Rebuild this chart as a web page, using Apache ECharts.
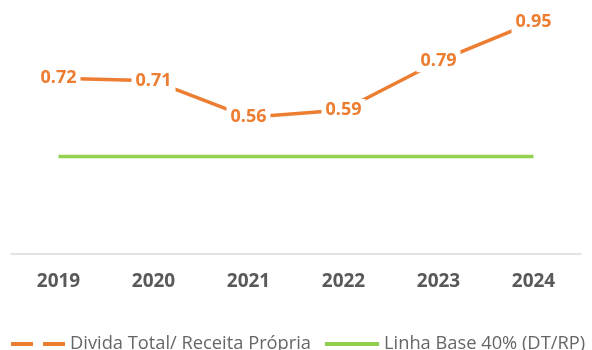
<!DOCTYPE html>
<html>
<head>
<meta charset="utf-8">
<script src="https://cdn.jsdelivr.net/npm/echarts@6/dist/echarts.min.js"></script>
<style>
  html, body { margin: 0; padding: 0; background: #fff; }
  #chart { width: 592px; height: 350px; }
</style>
</head>
<body>
<div id="chart"></div>
<script>
// Ratio of total debt to own revenue, against the 40% reference line
const years = ['2019', '2020', '2021', '2022', '2023', '2024'];
const debtRatio = [0.72, 0.71, 0.56, 0.59, 0.79, 0.95];
const baseLine = [0.4, 0.4, 0.4, 0.4, 0.4, 0.4];
const seriesNames = ['Divida Total/ Receita Própria', 'Linha Base 40% (DT/RP)'];

const ORANGE = '#ED7D31';
const GREEN = '#92D050';
const GREY = '#595959';
const FONT = '"Open Sans", Lato, sans-serif';

const chart = echarts.init(document.getElementById('chart'));
chart.setOption({
  animation: false,
  grid: { left: 11, right: 11, top: 10, bottom: 96, containLabel: false },
  xAxis: {
    type: 'category',
    data: years,
    boundaryGap: true,
    axisLine: { lineStyle: { color: '#D9D9D9', width: 1.5 } },
    axisTick: { show: false },
    axisLabel: { color: GREY, fontFamily: FONT, fontWeight: 'bold', fontSize: 19, margin: 18 }
  },
  yAxis: {
    type: 'value',
    min: 0,
    max: 1,
    show: false,
    splitLine: { show: false }
  },
  legend: {
    top: 330,
    left: 6,
    width: 700,
    itemGap: 14,
    itemWidth: 54,
    itemHeight: 4,
    textStyle: { color: '#666666', fontFamily: FONT, fontSize: 18.3 },
    data: [
      { name: seriesNames[0], icon: 'path://M0,0 L22,0 L22,4 L0,4 Z M32,0 L54,0 L54,4 L32,4 Z', itemStyle: { color: ORANGE } },
      { name: seriesNames[1], icon: 'rect', itemStyle: { color: GREEN } }
    ]
  },
  series: [
    {
      name: seriesNames[1],
      type: 'line',
      data: baseLine,
      symbol: 'none',
      lineStyle: { color: GREEN, width: 3.5 },
      itemStyle: { color: GREEN },
      z: 2
    },
    {
      name: seriesNames[0],
      type: 'line',
      data: debtRatio,
      symbol: 'circle',
      symbolSize: 1,
      showSymbol: true,
      lineStyle: { color: ORANGE, width: 3.5 },
      itemStyle: { color: 'rgba(0,0,0,0)' },
      label: {
        show: true,
        position: 'inside',
        color: ORANGE,
        fontFamily: FONT,
        fontWeight: 'bold',
        fontSize: 18,
        backgroundColor: '#fff',
        padding: [3, 4, 1, 4],
        formatter: p => p.value.toFixed(2)
      },
      z: 3
    }
  ]
});
</script>
</body>
</html>
